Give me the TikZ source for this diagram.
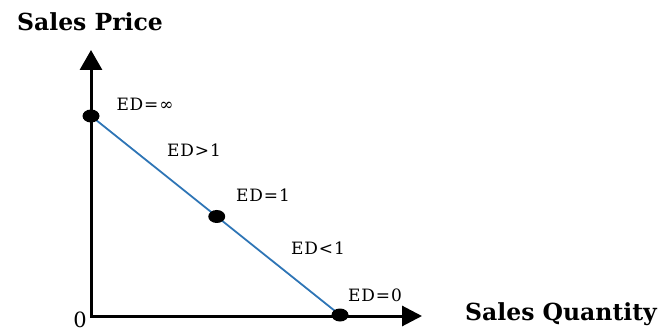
\documentclass[tikz,border=0pt]{standalone}
\usepackage{fontspec}
\setmainfont{DejaVu Serif}
\usepackage{tikz}
\usetikzlibrary{arrows.meta,shapes.geometric}
\definecolor{demand}{HTML}{2E75B6}

\begin{document}
\begin{tikzpicture}[x=1pt,y=1pt,
  axis/.style={line width=3pt, {Triangle[length=20pt,width=22pt]}-{Triangle[length=20pt,width=20pt]}},
  dot/.style={ellipse, fill=black, inner sep=0pt, minimum width=17pt, minimum height=13pt},
  edlabel/.style={font=\fontsize{17}{20}\selectfont\addfontfeatures{LetterSpace=5}},
  axlabel/.style={font=\fontsize{23.5}{28}\selectfont\bfseries}]
  \useasboundingbox (0,0) rectangle (666,332);
  % axes
  \coordinate (O) at (91,16);
  \coordinate (ytip) at (91,282);
  \coordinate (xtip) at (422,16);
  \draw[axis] (ytip) -- (O) -- (xtip);
  \node[axlabel] (price) at (90,310) {Sales Price};
  \node[axlabel] (qty) at (561,18) {Sales Quantity};
  \node[font=\fontsize{21}{25}\selectfont] (zero) at (80,12) {0};
  % demand line
  \coordinate (pInf) at (91,216);
  \coordinate (pZero) at (340,17);
  \path (pInf) -- (pZero) coordinate[pos=0.505] (pOne);
  \draw[demand, line width=1.8pt] (pInf) -- (pZero);
  \node[dot] (dInf) at (pInf) {};
  \node[dot] (dOne) at (pOne) {};
  \node[dot] (dZero) at (pZero) {};
  % elasticity labels
  \node[edlabel] (edInf) at (145,228) {ED=∞};
  \node[edlabel] (edHigh) at (194,182) {ED>1};
  \node[edlabel] (edOne) at (263,137) {ED=1};
  \node[edlabel] (edLow) at (318,84) {ED<1};
  \node[edlabel] (edZero) at (375,37) {ED=0};
\end{tikzpicture}
\end{document}
